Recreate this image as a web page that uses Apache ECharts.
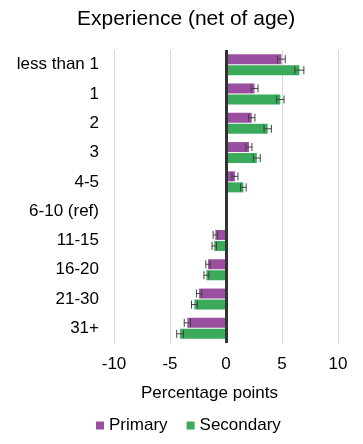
<!DOCTYPE html>
<html>
<head>
<meta charset="utf-8">
<script src="https://cdn.jsdelivr.net/npm/echarts@6/dist/echarts.min.js"></script>
<style>html,body{margin:0;padding:0;background:#fff}#c{width:363px;height:444px}</style>
</head>
<body>
<div id="c"></div>
<script>
var categories = ['less than 1','1','2','3','4-5','6-10 (ref)','11-15','16-20','21-30','31+'];
var primary = [4.95, 2.55, 2.3, 2.05, 0.8, 0, -0.95, -1.6, -2.4, -3.45];
var secondary = [6.55, 4.85, 3.72, 2.75, 1.55, 0, -1.05, -1.75, -2.82, -4.1];
var primaryErr = [0.34, 0.31, 0.28, 0.27, 0.27, 0, 0.2, 0.2, 0.24, 0.28];
var secondaryErr = [0.4, 0.33, 0.33, 0.31, 0.25, 0, 0.2, 0.22, 0.26, 0.3];
var xTicks = [-10, -5, 0, 5, 10];

var purple = '#9B4FA1';
var green = '#3BAA5B';
var BAR_W = 10;

function errSeries(vals, errs, offsetSign) {
  var data = vals.map(function (v, i) { return [v, i, errs[i]]; });
  return {
    type: 'custom',
    silent: true,
    z: 5,
    data: data,
    renderItem: function (params, api) {
      var v = api.value(0), idx = api.value(1), e = api.value(2);
      if (!e) return null;
      var lo = api.coord([v - e, idx]);
      var hi = api.coord([v + e, idx]);
      var y = lo[1] + offsetSign * (BAR_W / 2 + 0.5);
      var h = 4;
      var st = { stroke: '#404040', lineWidth: 1 };
      return {
        type: 'group',
        children: [
          { type: 'line', shape: { x1: lo[0], y1: y, x2: hi[0], y2: y }, style: st },
          { type: 'line', shape: { x1: lo[0], y1: y - h, x2: lo[0], y2: y + h }, style: st },
          { type: 'line', shape: { x1: hi[0], y1: y - h, x2: hi[0], y2: y + h }, style: st }
        ]
      };
    }
  };
}

var chart = echarts.init(document.getElementById('c'));
chart.setOption({
  animation: false,
  textStyle: { fontFamily: 'Liberation Sans, Arial, sans-serif' },
  title: [
    { text: 'Experience (net of age)', left: 72, top: 4,
      textStyle: { fontSize: 21, fontWeight: 'normal', color: '#000' } },
    { text: 'Percentage points', left: 136, top: 380,
      textStyle: { fontSize: 17, fontWeight: 'normal', color: '#000' } }
  ],
  legend: {
    data: ['Primary', 'Secondary'],
    left: 91, top: 412, itemWidth: 8, itemHeight: 8, itemGap: 19,
    icon: 'rect',
    textStyle: { fontSize: 17, color: '#000' }
  },
  grid: { left: 114, right: 25, top: 50, bottom: 101 },
  xAxis: {
    type: 'value', min: -10, max: 10, interval: 5,
    axisLine: { show: false }, axisTick: { show: false },
    splitLine: { lineStyle: { color: '#d9d9d9', width: 1 } },
    axisLabel: { fontSize: 17, color: '#000', margin: 13,
      formatter: function (v) { return xTicks.indexOf(v) >= 0 ? String(v) : ''; } }
  },
  yAxis: {
    type: 'category', data: categories, inverse: true,
    axisLine: { show: false }, axisTick: { show: false },
    axisLabel: { fontSize: 17, color: '#000', margin: 15 }
  },
  series: [
    { name: 'Primary', type: 'bar', data: primary, barWidth: BAR_W, barGap: '10%',
      itemStyle: { color: purple },
      markLine: { silent: true, symbol: 'none', label: { show: false },
        lineStyle: { color: '#333', width: 3, type: 'solid' },
        data: [{ xAxis: 0 }] } },
    { name: 'Secondary', type: 'bar', data: secondary, barWidth: BAR_W, barGap: '10%',
      itemStyle: { color: green } },
    errSeries(primary, primaryErr, -1),
    errSeries(secondary, secondaryErr, 1)
  ]
});
</script>
</body>
</html>
